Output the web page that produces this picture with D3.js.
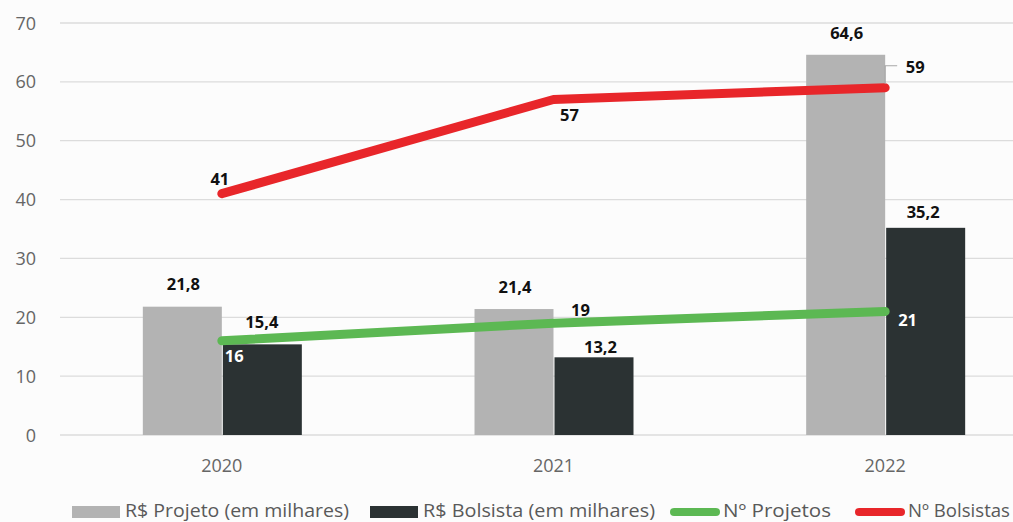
<!DOCTYPE html>
<html><head><meta charset="utf-8">
<script src="https://cdn.jsdelivr.net/npm/d3@7"></script>
<style>
html,body{margin:0;padding:0;background:#fcfcfc;}
svg{display:block;font-family:"Open Sans",sans-serif;}
</style></head>
<body>
<svg id="c" width="1013" height="522"></svg>
<script>
const years = ["2020","2021","2022"];
const projetoValores = [21.8, 21.4, 64.6];
const bolsistaValores = [15.4, 13.2, 35.2];
const numProjetos = [16, 19, 21];
const numBolsistas = [41, 57, 59];
const yTicks = [0,10,20,30,40,50,60,70];
const legendLabels = ["R$ Projeto (em milhares)", "R$ Bolsista (em milhares)", "Nº Projetos", "Nº Bolsistas"];

const colors = {proj:"#b3b3b3", bols:"#2b3233", green:"#5cb853", red:"#e8262a"};
const svg = d3.select("#c");
svg.append("rect").attr("width",1013).attr("height",522).attr("fill","#fcfcfc");

const x = d3.scaleBand().domain(years).range([56, 1051]).paddingInner(0).paddingOuter(0);
const y = d3.scaleLinear().domain([0,70]).range([435, 23]);
const barW = 79;

// gridlines
svg.append("g").selectAll("line").data(yTicks).join("line")
  .attr("x1",60).attr("x2",1013)
  .attr("y1",d=>y(d)).attr("y2",d=>y(d))
  .attr("stroke","#dcdcdc").attr("stroke-width",1.3);

// y axis labels
svg.append("g").selectAll("text").data(yTicks).join("text")
  .attr("x",36).attr("y",d=>y(d)+6.5)
  .attr("text-anchor","end").attr("font-size",18).attr("fill","#666")
  .text(d=>d);

// x axis labels
svg.append("g").selectAll("text").data(years).join("text")
  .attr("x",d=>x(d)+x.bandwidth()/2).attr("y",472)
  .attr("text-anchor","middle").attr("font-size",18).attr("fill","#666")
  .text(d=>d);

const cx = d => x(d)+x.bandwidth()/2;

// bars
svg.append("g").selectAll("rect").data(years).join("rect")
  .attr("x",d=>cx(d)-barW).attr("width",barW)
  .attr("y",(d,i)=>y(projetoValores[i])).attr("height",(d,i)=>y(0)-y(projetoValores[i]))
  .attr("fill",colors.proj);
svg.append("g").selectAll("rect").data(years).join("rect")
  .attr("x",d=>cx(d)+1).attr("width",barW)
  .attr("y",(d,i)=>y(bolsistaValores[i])).attr("height",(d,i)=>y(0)-y(bolsistaValores[i]))
  .attr("fill",colors.bols);

// lines
const line = d3.line().x(d=>cx(d.k)).y(d=>y(d.v));
svg.append("path").datum(years.map((k,i)=>({k,v:numProjetos[i]})))
  .attr("d",line).attr("fill","none").attr("stroke",colors.green)
  .attr("stroke-width",9).attr("stroke-linecap","round").attr("stroke-linejoin","round");
svg.append("path").datum(years.map((k,i)=>({k,v:numBolsistas[i]})))
  .attr("d",line).attr("fill","none").attr("stroke",colors.red)
  .attr("stroke-width",9).attr("stroke-linecap","round").attr("stroke-linejoin","round");

// leader line for 59
const p59x = cx("2022"), p59y = y(numBolsistas[2]);
svg.append("path").attr("d",`M${p59x},${p59y-4} V${p59y-22} H${p59x+12}`)
  .attr("fill","none").attr("stroke","#a6a6a6").attr("stroke-width",1.2);

// data labels
const lab = svg.append("g").attr("font-size",16.5).attr("font-weight","bold");
function label(t, xx, yy, fill, anchor){
  lab.append("text").attr("x",xx).attr("y",yy).attr("dy","0.35em")
    .attr("text-anchor",anchor||"middle").attr("fill",fill||"#111").text(t);
}
const fmt = v => String(v).replace(".",",");
years.forEach((k,i)=>{
  label(fmt(projetoValores[i]), cx(k)-barW/2+1, y(projetoValores[i])-22);
});
label(fmt(bolsistaValores[0]), cx("2020")+40, y(bolsistaValores[0])-22);
label(fmt(bolsistaValores[1]), cx("2021")+47, y(bolsistaValores[1])-10);
label(fmt(bolsistaValores[2]), cx("2022")+38, y(bolsistaValores[2])-16);
label(numProjetos[0], cx("2020")+3, y(numProjetos[0])+15, "#fff", "start");
label(numProjetos[1], cx("2021")+27, y(numProjetos[1])-13);
label(numProjetos[2], cx("2022")+13, y(numProjetos[2])+9, "#fff", "start");
label(numBolsistas[0], cx("2020")-2, y(numBolsistas[0])-14);
label(numBolsistas[1], cx("2021")+16, y(numBolsistas[1])+16);
label(numBolsistas[2], cx("2022")+30, y(numBolsistas[2])-21);

// legend
const lg = svg.append("g").attr("font-size",19).attr("fill","#595959");
const items = [
  {t:legendLabels[0], type:"rect", c:colors.proj, x:72, w:224},
  {t:legendLabels[1], type:"rect", c:colors.bols, x:370, w:232},
  {t:legendLabels[2], type:"line", c:colors.green, x:670, w:108},
  {t:legendLabels[3], type:"line", c:colors.red, x:855, w:102}
];
items.forEach(it=>{
  if(it.type==="rect"){
    lg.append("rect").attr("x",it.x).attr("y",506).attr("width",48).attr("height",12).attr("fill",it.c);
  } else {
    lg.append("line").attr("x1",it.x+4).attr("x2",it.x+46).attr("y1",512).attr("y2",512)
      .attr("stroke",it.c).attr("stroke-width",8).attr("stroke-linecap","round");
  }
  lg.append("text").attr("x",it.x+53).attr("y",517).attr("fill","#595959")
    .attr("textLength",it.w).attr("lengthAdjust","spacingAndGlyphs").text(it.t);
});
</script>
</body></html>
